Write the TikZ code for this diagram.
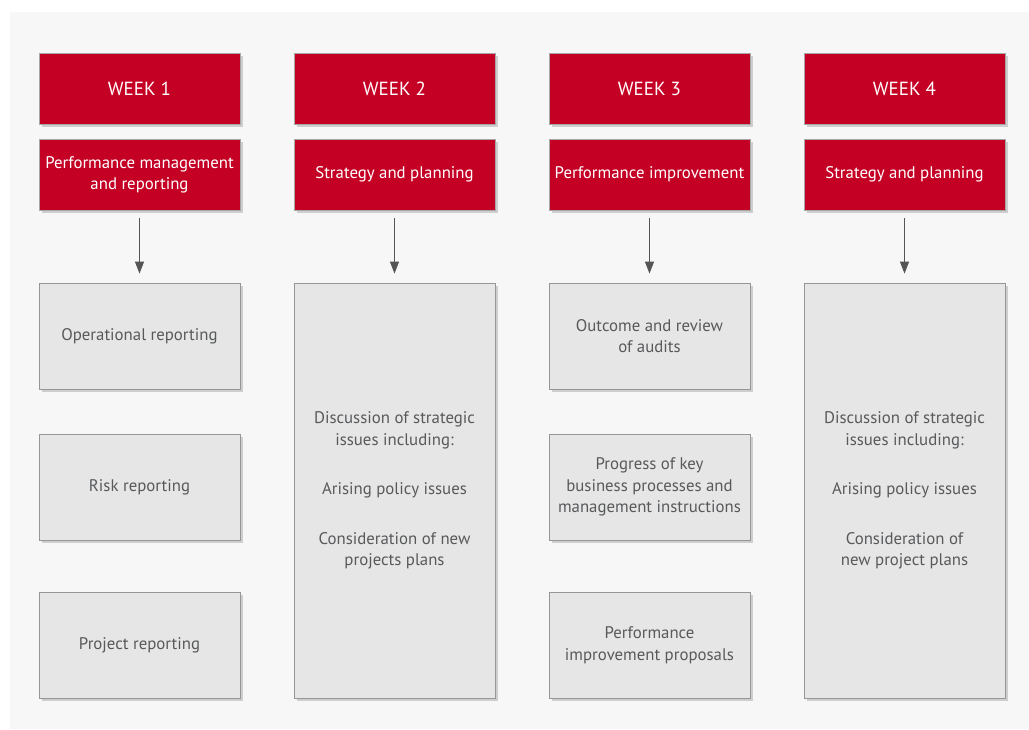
\documentclass[tikz,border=0pt]{standalone}
\usepackage{fontspec}
\setmainfont{PT Sans}
\usetikzlibrary{arrows.meta,shadows}

\definecolor{weekred}{RGB}{196,0,36}
\definecolor{panelgray}{RGB}{247,247,247}
\definecolor{boxgray}{RGB}{230,230,230}
\definecolor{edgegray}{RGB}{150,150,150}
\definecolor{textgray}{RGB}{88,89,91}
\definecolor{arrowgray}{RGB}{85,85,85}

\tikzset{
  redbox/.style={draw=black!35, line width=0.5pt, fill=weekred, text=white,
    minimum width=201pt, minimum height=71pt, inner sep=2pt, align=center,
    font=\fontsize{16.8}{21}\selectfont,
    drop shadow={shadow xshift=3pt, shadow yshift=-3pt, fill=black!35, opacity=0.5}},
  weekbox/.style={redbox, font=\fontsize{19}{21}\selectfont},
  graybox/.style={draw=edgegray, line width=0.8pt, fill=boxgray, text=textgray,
    minimum width=201pt, minimum height=106pt, inner sep=2pt, align=center,
    font=\fontsize{16.8}{21.5}\selectfont,
    drop shadow={shadow xshift=3pt, shadow yshift=-3pt, fill=black!35, opacity=0.5}},
  tallbox/.style={graybox, minimum height=415pt},
  flow/.style={draw=arrowgray, line width=0.8pt, -{Triangle[width=9pt,length=12pt]},
    shorten <=8pt, shorten >=9pt}
}

\begin{document}
\begin{tikzpicture}[x=1pt,y=-1pt]
  % canvas and light panel
  \useasboundingbox (0,0) rectangle (1029,729);
  \fill[panelgray] (10,12) rectangle (1029,729);

  % week headers
  \node[weekbox] (w1) at (139.5,88.5) {WEEK 1};
  \node[weekbox] (w2) at (394.5,88.5) {WEEK 2};
  \node[weekbox] (w3) at (649.5,88.5) {WEEK 3};
  \node[weekbox] (w4) at (904.5,88.5) {WEEK 4};

  % themes
  \node[redbox] (t1) at (139.5,174.5) {Performance management\\and reporting};
  \node[redbox] (t2) at (394.5,174.5) {Strategy and planning};
  \node[redbox] (t3) at (649.5,174.5) {Performance improvement};
  \node[redbox] (t4) at (904.5,174.5) {Strategy and planning};

  % week 1 items
  \node[graybox] (a1) at (139.5,336) {Operational reporting};
  \node[graybox] (a2) at (139.5,487) {Risk reporting};
  \node[graybox] (a3) at (139.5,645) {Project reporting};

  % week 2 items
  \node[tallbox] (b1) at (394.5,490.5) {Discussion of strategic\\issues including:\\[28pt]
    Arising policy issues\\[28pt]Consideration of new\\projects plans};

  % week 3 items
  \node[graybox] (c1) at (649.5,336) {Outcome and review\\of audits};
  \node[graybox] (c2) at (649.5,487) {Progress of key\\business processes and\\management instructions};
  \node[graybox] (c3) at (649.5,645) {Performance\\improvement proposals};

  % week 4 items
  \node[tallbox] (d1) at (904.5,490.5) {Discussion of strategic\\issues including:\\[28pt]
    Arising policy issues\\[28pt]Consideration of\\new project plans};

  % arrows
  \draw[flow] (t1.south) -- (a1.north);
  \draw[flow] (t2.south) -- (b1.north);
  \draw[flow] (t3.south) -- (c1.north);
  \draw[flow] (t4.south) -- (d1.north);
\end{tikzpicture}
\end{document}
